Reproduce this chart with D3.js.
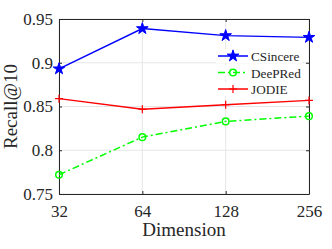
<!DOCTYPE html>
<html>
<head>
<meta charset="utf-8">
<script src="https://cdn.jsdelivr.net/npm/d3@7"></script>
<style>
  body { margin: 0; background: #fff; }
</style>
</head>
<body>
<script>
// Data
const dims = [32, 64, 128, 256];
const csincere = [0.893, 0.939, 0.931, 0.929];
const deepred = [0.772, 0.815, 0.833, 0.839];
const jodie = [0.859, 0.847, 0.852, 0.857];
const yTicks = [0.75, 0.8, 0.85, 0.9, 0.95];
const yTickLabels = ['0.75', '0.8', '0.85', '0.9', '0.95'];

const series = [
    { name: 'CSincere', values: csincere, color: '#0000ff', marker: 'star', dash: null },
    { name: 'DeePRed', values: deepred, color: '#00ff00', marker: 'circle', dash: '7,3,2,3' },
    { name: 'JODIE', values: jodie, color: '#ff0000', marker: 'plus', dash: null }
];

const serif = '"Liberation Serif"';
const width = 332, height = 249;
const margin = { top: 19, right: 23, bottom: 55, left: 59 };

const svg = d3.select('body').append('svg')
    .attr('width', width)
    .attr('height', height)
    .attr('font-family', serif);

const x = d3.scaleLog().base(2)
    .domain([32, 256])
    .range([margin.left, width - margin.right]);

const y = d3.scaleLinear()
    .domain([0.75, 0.95])
    .range([height - margin.bottom, margin.top]);

const x0 = margin.left, x1 = width - margin.right;
const y0 = height - margin.bottom, y1 = margin.top;

// grid
const grid = svg.append('g').attr('class', 'grid');
grid.selectAll('line.gx')
    .data(dims)
    .join('line')
    .attr('class', 'gx')
    .attr('x1', d => x(d)).attr('x2', d => x(d))
    .attr('y1', y1).attr('y2', y0)
    .style('stroke', '#e6e6e6');
grid.selectAll('line.gy')
    .data(yTicks)
    .join('line')
    .attr('class', 'gy')
    .attr('x1', x0).attr('x2', x1)
    .attr('y1', d => y(d)).attr('y2', d => y(d))
    .style('stroke', '#e6e6e6');

// axes (inward ticks, box)
const xAxis = d3.axisBottom(x).tickValues(dims).tickFormat(d3.format('d')).tickSizeInner(-3).tickSizeOuter(0).tickPadding(11);
const yAxis = d3.axisLeft(y).tickValues(yTicks).tickFormat((d, i) => yTickLabels[i]).tickSizeInner(-3).tickSizeOuter(0).tickPadding(6);

const gx = svg.append('g')
    .attr('transform', `translate(0,${y0})`)
    .call(xAxis);
const gy = svg.append('g')
    .attr('transform', `translate(${x0},0)`)
    .call(yAxis);

[gx, gy].forEach(g => {
    g.attr('font-family', serif).attr('font-size', 17);
    g.select('.domain').style('stroke', '#262626');
    g.selectAll('.tick line').style('stroke', '#262626');
    g.selectAll('.tick text').attr('fill', '#262626');
});

// top and right box edges with ticks
svg.append('g')
    .attr('transform', `translate(0,${y1})`)
    .call(d3.axisTop(x).tickValues(dims).tickFormat('').tickSizeInner(-3).tickSizeOuter(0))
    .call(g => g.selectAll('line, path').style('stroke', '#262626'));
svg.append('g')
    .attr('transform', `translate(${x1},0)`)
    .call(d3.axisRight(y).tickValues(yTicks).tickFormat('').tickSizeInner(-3).tickSizeOuter(0))
    .call(g => g.selectAll('line, path').style('stroke', '#262626'));

// axis titles
svg.append('text')
    .attr('x', (x0 + x1) / 2)
    .attr('y', 236)
    .attr('text-anchor', 'middle')
    .attr('font-family', serif)
    .attr('font-size', 19)
    .attr('fill', '#262626')
    .text('Dimension');

svg.append('text')
    .attr('transform', `translate(17,${(y0 + y1) / 2}) rotate(-90)`)
    .attr('text-anchor', 'middle')
    .attr('font-family', serif)
    .attr('font-size', 19)
    .attr('fill', '#262626')
    .text('Recall@10');

const line = d3.line()
    .x((d, i) => x(dims[i]))
    .y(d => y(d));

const star = d3.symbol().type(d3.symbolStar).size(42);

function drawMarker(g, type, color) {
    if (type === 'star') {
        g.append('path').attr('d', star()).style('fill', color).style('stroke', color);
    } else if (type === 'circle') {
        g.append('circle').attr('r', 3.3).style('fill', 'none').style('stroke', color).style('stroke-width', 1.5);
    } else {
        g.append('path').attr('d', 'M-4,0H4M0,-4V4').style('stroke', color).style('stroke-width', 1.2);
    }
}

series.forEach(s => {
    svg.append('path')
        .datum(s.values)
        .attr('d', line)
        .style('fill', 'none')
        .style('stroke', s.color)
        .style('stroke-width', 1.5)
        .style('stroke-dasharray', s.dash);

    svg.append('g')
        .selectAll('g')
        .data(s.values)
        .join('g')
        .attr('transform', (d, i) => `translate(${x(dims[i])},${y(d)})`)
        .each(function () { drawMarker(d3.select(this), s.marker, s.color); });
});

// legend
const legend = svg.append('g').attr('transform', 'translate(218,56)');
series.forEach((s, i) => {
    const row = legend.append('g').attr('transform', `translate(0,${i * 16.5})`);
    row.append('rect').attr('x', -2).attr('y', -7).attr('width', 86).attr('height', 14).style('fill', '#fff');
    row.append('line')
        .attr('x1', 0).attr('x2', 30)
        .style('stroke', s.color)
        .style('stroke-width', 1.5)
        .style('stroke-dasharray', s.dash);
    const m = row.append('g').attr('transform', 'translate(15,0)');
    drawMarker(m, s.marker, s.color);
    row.append('text')
        .attr('x', 33)
        .attr('y', 5)
        .attr('font-family', serif)
        .attr('font-size', 13.2)
        .attr('fill', '#262626')
        .text(s.name);
});
</script>
</body>
</html>
